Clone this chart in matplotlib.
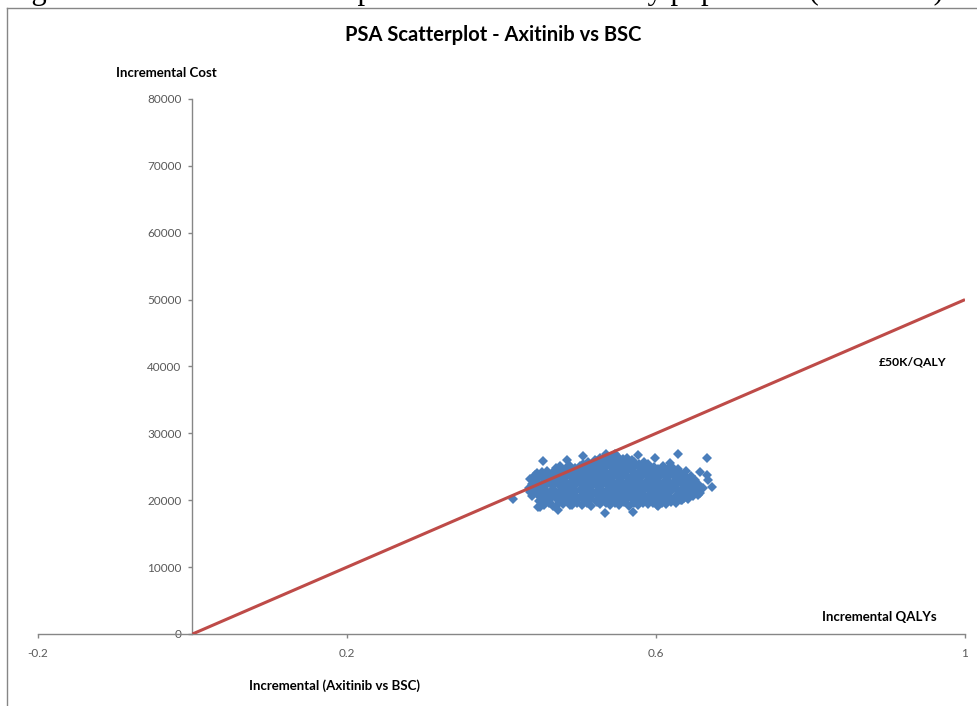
import matplotlib.pyplot as plt
from matplotlib.lines import Line2D

plt.rcParams['font.family'] = ['Lato', 'DejaVu Sans']

inc_qaly = [
    0.455, 0.467, 0.480, 0.491, 0.504, 0.516, 0.528, 0.541, 0.552, 0.565, 0.577, 0.589, 0.601, 0.613, 0.626,
    0.461, 0.474, 0.486, 0.498, 0.511, 0.523, 0.535, 0.547, 0.559, 0.571, 0.583, 0.596, 0.608, 0.620,
    0.448, 0.461, 0.473, 0.485, 0.497, 0.510, 0.522, 0.534, 0.546, 0.559, 0.571, 0.583, 0.595, 0.607, 0.619, 0.632, 0.641,
    0.458, 0.470, 0.482, 0.494, 0.504, 0.516, 0.528, 0.540, 0.552, 0.564, 0.576, 0.588, 0.600, 0.612, 0.624, 0.636,
    0.440, 0.452, 0.464, 0.477, 0.489, 0.501, 0.514, 0.526, 0.538, 0.550, 0.563, 0.575, 0.587, 0.599, 0.611, 0.624, 0.636, 0.648,
    0.446, 0.458, 0.470, 0.482, 0.494, 0.507, 0.519, 0.531, 0.543, 0.556, 0.568, 0.580, 0.592, 0.604, 0.616, 0.628, 0.640,
    0.437, 0.447, 0.459, 0.471, 0.483, 0.495, 0.507, 0.520, 0.532, 0.544, 0.556, 0.569, 0.581, 0.593, 0.605, 0.617, 0.630, 0.642, 0.654,
    0.441, 0.453, 0.465, 0.477, 0.489, 0.501, 0.513, 0.525, 0.537, 0.549, 0.561, 0.573, 0.585, 0.597, 0.609, 0.621, 0.633, 0.645, 0.657,
    0.436, 0.443, 0.455, 0.467, 0.479, 0.492, 0.504, 0.516, 0.528, 0.540, 0.553, 0.565, 0.577, 0.589, 0.601, 0.613, 0.626, 0.638, 0.650, 0.661,
    0.443, 0.455, 0.467, 0.479, 0.491, 0.504, 0.516, 0.528, 0.540, 0.552, 0.565, 0.577, 0.589, 0.601, 0.613, 0.626, 0.638, 0.650,
    0.439, 0.449, 0.461, 0.473, 0.486, 0.498, 0.510, 0.522, 0.534, 0.547, 0.559, 0.571, 0.583, 0.595, 0.607, 0.620, 0.632, 0.644, 0.655,
    0.443, 0.455, 0.467, 0.479, 0.491, 0.504, 0.516, 0.528, 0.540, 0.552, 0.564, 0.576, 0.588, 0.600, 0.612, 0.624, 0.636, 0.648,
    0.437, 0.444, 0.455, 0.467, 0.480, 0.492, 0.504, 0.516, 0.528, 0.541, 0.553, 0.565, 0.577, 0.589, 0.601, 0.614, 0.626, 0.638, 0.650,
    0.448, 0.460, 0.472, 0.484, 0.496, 0.508, 0.520, 0.532, 0.544, 0.556, 0.568, 0.580, 0.592, 0.604, 0.616, 0.628, 0.640,
    0.443, 0.453, 0.465, 0.477, 0.489, 0.501, 0.513, 0.525, 0.537, 0.549, 0.561, 0.574, 0.586, 0.598, 0.610, 0.622, 0.634, 0.645,
    0.453, 0.465, 0.477, 0.489, 0.500, 0.512, 0.524, 0.536, 0.549, 0.561, 0.573, 0.585, 0.597, 0.609, 0.621, 0.633,
    0.459, 0.470, 0.482, 0.494, 0.506, 0.518, 0.530, 0.543, 0.555, 0.567, 0.579, 0.591, 0.603, 0.615, 0.627, 0.639,
    0.470, 0.483, 0.495, 0.507, 0.519, 0.531, 0.543, 0.555, 0.567, 0.579, 0.591, 0.603, 0.615, 0.628,
    0.476, 0.489, 0.501, 0.513, 0.525, 0.537, 0.549, 0.561, 0.573, 0.585, 0.597, 0.609, 0.621,
    0.506, 0.518, 0.530, 0.542, 0.554, 0.566, 0.578, 0.590,
    0.512, 0.524, 0.536, 0.548, 0.560, 0.572, 0.584,
    0.521, 0.533, 0.545, 0.557, 0.569,
    0.527, 0.539, 0.551, 0.563,
    0.535, 0.547,
    # stragglers round the edge
    0.415, 0.446, 0.454, 0.485, 0.506, 0.577, 0.599, 0.629, 0.666, 0.618, 0.657, 0.666, 0.672,
    0.667, 0.657, 0.634, 0.654, 0.450, 0.473, 0.489, 0.534, 0.570, 0.596, 0.603, 0.447,
]
inc_cost = [
    19350, 19200, 19400, 19250, 19300, 19150, 19400, 19250, 19350, 19200, 19300, 19400, 19250, 19450, 19600,
    19650, 19600, 19700, 19650, 19600, 19700, 19650, 19600, 19700, 19650, 19600, 19700, 19650, 19750,
    19950, 19850, 20000, 19900, 19850, 20050, 19900, 19950, 19850, 20000, 19900, 19950, 20050, 19900, 19950, 20100, 20200,
    20250, 20300, 20200, 20250, 20350, 20250, 20300, 20200, 20250, 20300, 20250, 20200, 20300, 20250, 20350, 20300,
    20600, 20500, 20550, 20450, 20600, 20500, 20550, 20650, 20500, 20550, 20450, 20600, 20500, 20550, 20650, 20500, 20600, 20700,
    20900, 20850, 20950, 20900, 20850, 20950, 20900, 20850, 20900, 20950, 20850, 20900, 20950, 20900, 20850, 20900, 20950,
    21250, 21150, 21200, 21300, 21100, 21200, 21250, 21150, 21300, 21200, 21100, 21250, 21200, 21300, 21150, 21200, 21250, 21150, 21300,
    21550, 21500, 21600, 21550, 21500, 21600, 21550, 21500, 21550, 21600, 21500, 21550, 21600, 21500, 21550, 21600, 21500, 21550, 21600,
    21800, 21900, 21850, 21750, 21900, 21800, 21850, 21950, 21800, 21850, 21750, 21900, 21800, 21850, 21950, 21800, 21900, 21850, 21750, 21900,
    22200, 22150, 22250, 22200, 22150, 22250, 22200, 22150, 22200, 22250, 22150, 22200, 22250, 22150, 22200, 22250, 22150, 22200,
    22500, 22450, 22550, 22400, 22500, 22600, 22450, 22500, 22550, 22400, 22500, 22600, 22450, 22550, 22500, 22400, 22550, 22500, 22450,
    22850, 22800, 22900, 22850, 22800, 22900, 22850, 22800, 22850, 22900, 22800, 22850, 22900, 22800, 22850, 22900, 22800, 22850,
    23200, 23100, 23150, 23250, 23100, 23150, 23200, 23050, 23150, 23250, 23100, 23150, 23200, 23100, 23250, 23150, 23100, 23200, 23050,
    23500, 23450, 23550, 23500, 23450, 23550, 23500, 23450, 23500, 23550, 23450, 23500, 23550, 23450, 23500, 23550, 23400,
    23850, 23750, 23800, 23900, 23750, 23850, 23800, 23900, 23750, 23800, 23850, 23750, 23900, 23800, 23750, 23850, 23800, 23700,
    24150, 24100, 24200, 24150, 24100, 24200, 24150, 24100, 24150, 24200, 24100, 24150, 24200, 24100, 24050, 24000,
    24400, 24500, 24450, 24350, 24500, 24450, 24550, 24400, 24500, 24450, 24350, 24500, 24400, 24450, 24350, 24300,
    24800, 24750, 24850, 24800, 24750, 24850, 24800, 24750, 24800, 24850, 24750, 24700, 24650, 24600,
    25050, 25150, 25100, 25000, 25150, 25200, 25100, 25050, 25150, 25100, 25000, 25050, 24950,
    25400, 25450, 25500, 25400, 25450, 25500, 25400, 25350,
    25700, 25800, 25850, 25750, 25800, 25700, 25650,
    26050, 26100, 26150, 26100, 26000,
    26300, 26400, 26450, 26350,
    26850, 26950,
    20250, 24100, 25900, 26050, 26600, 26800, 26250, 26900, 26300, 25550, 24250, 23750, 21950,
    23050, 21050, 20050, 20800, 19000, 18550, 19250, 18100, 18250, 19600, 19150, 19050,
]
assert len(inc_qaly) == len(inc_cost)

# £50K/QALY threshold line
wtp_qaly = [0.0, 1.0]
wtp_cost = [0, 50000]

x_ticks = [-0.2, 0.2, 0.6, 1.0]
x_tick_labels = ['-0.2', '0.2', '0.6', '1']
y_ticks = [0, 10000, 20000, 30000, 40000, 50000, 60000, 70000, 80000]

W, H = 978, 706
fig = plt.figure(figsize=(W / 100, H / 100), dpi=100)
ax = fig.add_axes([38 / W, 1 - 634 / H, 927 / W, 535 / H])

ax.plot(inc_qaly, inc_cost, 'D', color='#4A7EBB', ms=5.5, mew=0, zorder=2)
ax.plot(wtp_qaly, wtp_cost, color='#BE4B48', lw=2.2, zorder=3, solid_capstyle='butt')

ax.set_xlim(-0.2, 1.0)
ax.set_ylim(0, 80000)
ax.set_xticks(x_ticks)
ax.set_xticklabels(x_tick_labels)
ax.set_yticks(y_ticks)
ax.set_yticklabels([str(v) for v in y_ticks])

for s in ['top', 'right']:
    ax.spines[s].set_visible(False)
ax.spines['left'].set_position(('data', 0))
for s in ['left', 'bottom']:
    ax.spines[s].set_color('#868686')
    ax.spines[s].set_linewidth(1.0)
ax.tick_params(axis='both', direction='out', length=3, width=1, color='#868686',
               labelcolor='#595959', labelsize=8.5)
ax.tick_params(axis='x', pad=7)
ax.tick_params(axis='y', pad=5)
ax.patch.set_alpha(0)

def px(x, y):
    return x / W, 1 - y / H

fig.text(*px(493, 35), 'PSA Scatterplot - Axitinib vs BSC', ha='center', va='center',
         fontsize=14.5, fontweight='bold')
fig.text(*px(166, 73), 'Incremental Cost', ha='center', va='center', fontsize=9.5, fontweight='bold')
fig.text(*px(879, 617), 'Incremental QALYs', ha='center', va='center', fontsize=9.5, fontweight='bold')
fig.text(*px(335, 686), 'Incremental (Axitinib vs BSC)', ha='center', va='center', fontsize=9.5,
         fontweight='bold')
fig.text(*px(913, 362), '£50K/QALY', ha='center', va='center', fontsize=8.7, fontweight='bold')

# chart-area border (cut by the page crop on the right and bottom)
fig.add_artist(Line2D([7 / W, 7 / W], [0, 1 - 8 / H], transform=fig.transFigure, color='#868686', lw=1))
fig.add_artist(Line2D([7 / W, 1], [1 - 8 / H, 1 - 8 / H], transform=fig.transFigure, color='#868686', lw=1))

# document caption above the chart, cropped so only its descenders show
fig.text(6 / W, 1 - 6 / H, "Figure 5.3: ERG PSA scatterplot: Sunitinib-refractory population (with PAS)",
         ha='left', va='bottom', fontsize=22, family='Liberation Serif')

fig.savefig('out.png', dpi=100)
